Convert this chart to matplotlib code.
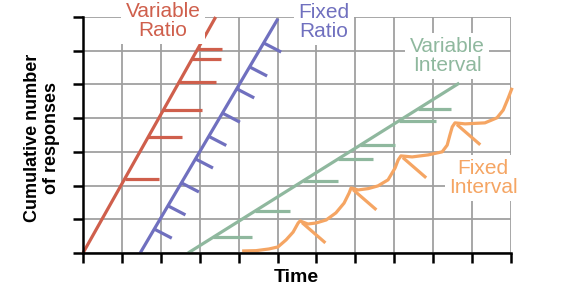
import numpy as np
import matplotlib
matplotlib.use("Agg")
import matplotlib.pyplot as plt

plt.rcParams['font.family'] = ['Liberation Sans', 'DejaVu Sans']

# line end points (time, cumulative responses)
vr_x = [0.0, 3.41]
vr_y = [0.0, 7.0]
fr_x = [1.47, 5.01]
fr_y = [0.0, 6.95]
vi_x = [2.7, 9.67]
vi_y = [0.0, 5.04]

# reinforcement marks
vr_marks_y = [2.2, 3.44, 4.24, 5.07, 5.75, 6.05]
vr_marks_len = [0.87, 0.87, 1.0, 0.95, 0.75, 0.62]
fr_marks_y = [0.71, 1.4, 2.08, 2.79, 3.46, 4.15, 4.87, 5.52, 6.23]
vi_marks_y = [0.47, 1.25, 2.14, 2.79, 3.2, 3.92, 4.27]
vi_marks_len = [1.0, 0.9, 0.9, 0.9, 0.9, 0.96, 0.86]

# fixed interval scallops
fi_x = [4.09, 4.45, 4.78, 5.01, 5.22, 5.40, 5.53, 5.58,
        5.78, 5.99, 6.25, 6.50, 6.71, 6.84, 6.89,
        7.07, 7.33, 7.58, 7.84, 8.02, 8.10, 8.17,
        8.46, 8.87, 9.23, 9.36, 9.43, 9.49, 9.56,
        9.82, 10.33, 10.64, 10.80, 10.93, 11.03]
fi_y = [0.06, 0.07, 0.12, 0.18, 0.39, 0.62, 0.89, 0.95,
        0.86, 0.89, 0.98, 1.19, 1.48, 1.78, 1.93,
        1.87, 1.91, 1.99, 2.17, 2.52, 2.76, 2.88,
        2.85, 2.91, 3.00, 3.20, 3.50, 3.74, 3.86,
        3.83, 3.86, 4.01, 4.24, 4.60, 4.90]
fi_peaks_x = [5.58, 6.89, 8.17, 9.56]
fi_peaks_y = [0.95, 1.93, 2.88, 3.86]

red = '#cf5f4c'
blue = '#7070bf'
green = '#8fb89e'
orange = '#f5a563'
lw = 2.3

fig = plt.figure(figsize=(5.83, 2.91), dpi=100)
ax = fig.add_axes([83/583, 38/291, 428/583, 236/291])
ax.set_xlim(0, 11)
ax.set_ylim(0, 7)
ax.set_xticks(range(12))
ax.set_yticks(range(8))
ax.set_xticklabels([])
ax.set_yticklabels([])
ax.grid(True, color='#a0a0a0', lw=1.3)
ax.set_axisbelow(True)
for s in ['top', 'right']:
    ax.spines[s].set_visible(False)
for s in ['left', 'bottom']:
    ax.spines[s].set_linewidth(1.8)
    ax.spines[s].set_color('black')
ax.tick_params(length=7, width=1.8, color='black')

kw = dict(lw=lw, solid_capstyle='butt', clip_on=False)

# variable ratio
ax.plot(vr_x, vr_y, color=red, **kw)
for y, l in zip(vr_marks_y, vr_marks_len):
    x0 = np.interp(y, vr_y, vr_x)
    ax.plot([x0, x0 + l], [y, y], color=red, **kw)

# fixed ratio
ax.plot(fr_x, fr_y, color=blue, **kw)
for y in fr_marks_y:
    x0 = np.interp(y, fr_y, fr_x)
    ax.plot([x0, x0 + 0.45], [y, y - 0.27], color=blue, **kw)

# variable interval
ax.plot(vi_x, vi_y, color=green, **kw)
for y, l in zip(vi_marks_y, vi_marks_len):
    x0 = np.interp(y, vi_y, vi_x)
    ax.plot([x0, x0 + l], [y, y], color=green, **kw)

# fixed interval
ax.plot(fi_x, fi_y, color=orange, solid_joinstyle='round', **kw)
for x, y in zip(fi_peaks_x, fi_peaks_y):
    ax.plot([x + 0.05, x + 0.65], [y - 0.05, y - 0.65], color=orange, **kw)

box = dict(boxstyle='square,pad=0.2', fc='white', ec='none')
fs = 15
fig.text(163/583, 1 - 21/291, 'Variable\nRatio', color=red, fontsize=fs,
         ha='center', va='center', linespacing=1.0, bbox=box)
fig.text(324/583, 1 - 22/291, 'Fixed\nRatio', color=blue, fontsize=fs,
         ha='center', va='center', linespacing=1.0, bbox=box)
fig.text(447/583, 1 - 56/291, 'Variable\nInterval', color=green, fontsize=fs,
         ha='center', va='center', linespacing=1.0, bbox=box)
fig.text(483/583, 1 - 178/291, 'Fixed\nInterval', color=orange, fontsize=fs,
         ha='center', va='center', linespacing=1.0, bbox=box)

fig.text(296/583, 1 - 278/291, 'Time', fontsize=14, fontweight='bold',
         ha='center', va='center')
fig.text(42/583, 1 - 138/291, 'Cumulative number\nof responses', fontsize=13,
         fontweight='bold', rotation=90, ha='center', va='center',
         linespacing=1.15)

fig.savefig('out.png', dpi=100)
